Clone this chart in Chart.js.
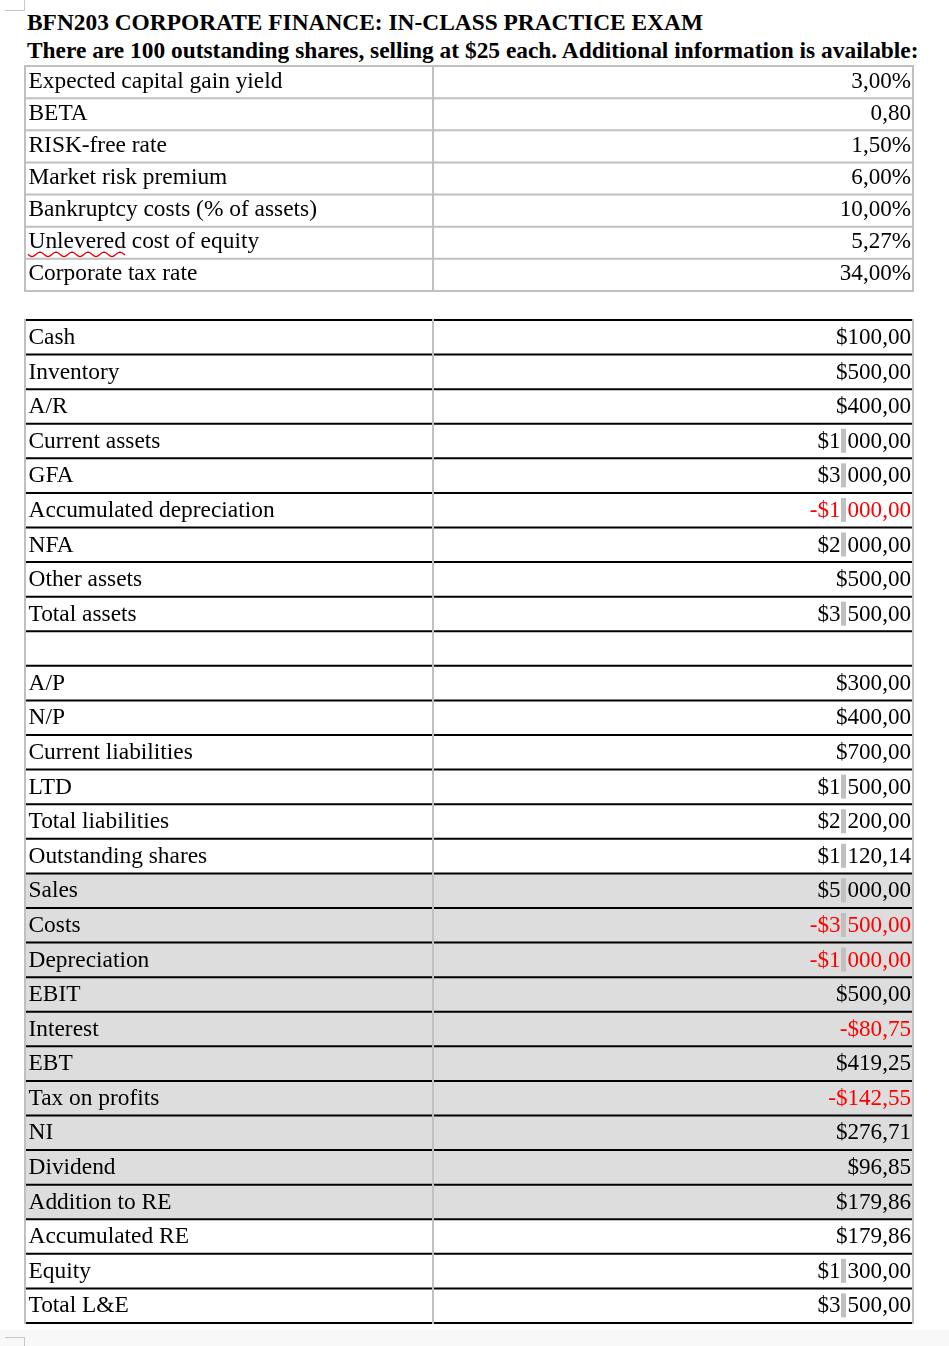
<!DOCTYPE html>
<html>
<head>
<meta charset="utf-8">
<title>BFN203 Corporate Finance</title>
<script src="https://cdn.jsdelivr.net/npm/chart.js@4/dist/chart.umd.min.js"></script>
<style>
  body { margin: 0; background: #ffffff; }
  #page { position: relative; width: 949px; height: 1346px; overflow: hidden; }
  .head { position: absolute; left: 27px; font: bold 23.4px "Liberation Serif", serif; line-height: 24px; white-space: nowrap; color: #000; }
  canvas { position: absolute; left: 0; top: 0; }
  .mark { position: absolute; background: #c6c6c6; }
  #band { position: absolute; left: 0; top: 1330px; width: 949px; height: 16px; background: #f8f8f8; }
</style>
</head>
<body>
<div id="page">
  <div class="head" style="top:10px">BFN203 CORPORATE FINANCE: IN-CLASS PRACTICE EXAM</div>
  <div class="head" style="top:38.3px">There are 100 outstanding shares, selling at $25 each. Additional information is available:</div>
  <canvas id="infoTable" width="949" height="1346"></canvas>
  <canvas id="bsTable" width="949" height="1346"></canvas>
  <div id="band"></div>
  <div class="mark" style="left:24px;top:0;width:1px;height:10px"></div>
  <div class="mark" style="left:5px;top:10px;width:20px;height:1px"></div>
  <div class="mark" style="left:5px;top:1337px;width:20px;height:1px"></div>
  <div class="mark" style="left:24px;top:1337px;width:1px;height:9px"></div>
</div>
<script>
/* DATA */
const infoLabels = [
  "Expected capital gain yield", "BETA", "RISK-free rate", "Market risk premium",
  "Bankruptcy costs (% of assets)", "Unlevered cost of equity", "Corporate tax rate"
];
const infoValues = [3.00, 0.80, 1.50, 6.00, 10.00, 5.27, 34.00];
const infoUnits = ["%", "", "%", "%", "%", "%", "%"];

const bsLabels = [
  "Cash", "Inventory", "A/R", "Current assets", "GFA", "Accumulated depreciation",
  "NFA", "Other assets", "Total assets", "",
  "A/P", "N/P", "Current liabilities", "LTD", "Total liabilities", "Outstanding shares",
  "Sales", "Costs", "Depreciation", "EBIT", "Interest", "EBT", "Tax on profits", "NI",
  "Dividend", "Addition to RE", "Accumulated RE", "Equity", "Total L&E"
];
const bsValues = [
  100, 500, 400, 1000, 3000, -1000, 2000, 500, 3500, null,
  300, 400, 700, 1500, 2200, 1120.14,
  5000, -3500, -1000, 500, -80.75, 419.25, -142.55, 276.71,
  96.85, 179.86, 179.86, 1300, 3500
];
const shadedRows = [
  "Sales", "Costs", "Depreciation", "EBIT", "Interest", "EBT",
  "Tax on profits", "NI", "Dividend", "Addition to RE"
];

const LABEL_FONT = '23.4px "Liberation Serif", serif';
const VALUE_FONT = '23.1px "Liberation Serif", serif';
const SPLIT = 0.4595; // column divider, as share of table width

function fmtPlain(v, unit) {
  return { head: "", tail: v.toFixed(2).replace(".", ",") + unit };
}

function fmtMoney(v) {
  const sign = v < 0 ? "-$" : "$";
  const parts = Math.abs(v).toFixed(2).split(".");
  const int = parts[0];
  if (int.length > 3) {
    return { head: sign + int.slice(0, -3), tail: int.slice(-3) + "," + parts[1] };
  }
  return { head: "", tail: sign + int + "," + parts[1] };
}

/* draws grid lines + cell texts on top of the shading bars */
const cellsPlugin = {
  id: "cells",
  afterDatasetsDraw(chart, args, opts) {
    const { ctx, chartArea: a, scales: { x, y } } = chart;
    const labels = chart.data.labels;
    const n = labels.length;
    const rowH = a.height / n;
    const xl = x.getPixelForValue(0);
    const xm = x.getPixelForValue(SPLIT);
    const xr = x.getPixelForValue(1);

    ctx.save();
    // horizontal rules
    ctx.lineWidth = 2;
    ctx.strokeStyle = opts.rowLine;
    for (let i = 0; i <= n; i++) {
      const yy = i < n ? y.getPixelForValue(i) - rowH / 2 : y.getPixelForValue(n - 1) + rowH / 2;
      ctx.beginPath();
      ctx.moveTo(xl - 1, yy);
      ctx.lineTo(xr + 1, yy);
      ctx.stroke();
    }
    // vertical rules
    ctx.strokeStyle = opts.colLine;
    [xl, xm, xr].forEach(xx => {
      ctx.beginPath();
      ctx.moveTo(xx, a.top - 1);
      ctx.lineTo(xx, a.bottom + 1);
      ctx.stroke();
    });

    // texts
    ctx.textBaseline = "alphabetic";
    labels.forEach((lab, i) => {
      const base = y.getPixelForValue(i) + opts.baseline;
      ctx.font = LABEL_FONT;
      ctx.fillStyle = "#000";
      ctx.textAlign = "left";
      ctx.fillText(lab, xl + 3.5, base);

      if (opts.squiggle && lab.startsWith(opts.squiggle)) {
        const w = ctx.measureText(opts.squiggle).width;
        ctx.beginPath();
        ctx.strokeStyle = "#e8000b";
        ctx.lineWidth = 1.3;
        for (let s = 0; s <= w; s += 1) {
          const yy = base + 6 + 2.2 * Math.sin(s / 16 * 2 * Math.PI);
          if (s === 0) ctx.moveTo(xl + 3 + s, yy); else ctx.lineTo(xl + 3 + s, yy);
        }
        ctx.stroke();
      }

      const v = opts.values[i];
      if (v === null || v === undefined) return;
      const f = opts.units ? fmtPlain(v, opts.units[i]) : fmtMoney(v);
      const right = xr - 2;
      ctx.font = VALUE_FONT;
      ctx.textAlign = "right";
      ctx.fillStyle = v < 0 ? "#ff0000" : "#000";
      ctx.fillText(f.tail, right, base);
      if (f.head) {
        const start = right - ctx.measureText(f.tail).width;
        ctx.fillStyle = "#c0c0c0";
        ctx.fillRect(start - 6.5, base - 19, 5, 24);
        ctx.fillStyle = v < 0 ? "#ff0000" : "#000";
        ctx.fillText(f.head, start - 7, base);
      }
    });
    ctx.restore();
  }
};

function makeTable(id, labels, shading, pad, plugOpts) {
  return new Chart(document.getElementById(id), {
    type: "bar",
    data: {
      labels: labels,
      datasets: [{
        data: labels.map((l, i) => shading[i] ? [0, 1] : null),
        backgroundColor: "#dddddd",
        borderWidth: 0,
        barPercentage: 1,
        categoryPercentage: 1
      }]
    },
    options: {
      indexAxis: "y",
      responsive: false,
      animation: false,
      devicePixelRatio: 1,
      layout: { padding: pad },
      scales: {
        x: { type: "linear", min: 0, max: 1, display: false },
        y: { type: "category", offset: true, display: false }
      },
      plugins: {
        legend: { display: false },
        tooltip: { enabled: false },
        cells: plugOpts
      }
    },
    plugins: [cellsPlugin]
  });
}

/* TABLE 1 - inputs */
makeTable("infoTable", infoLabels, infoLabels.map(() => false),
  { left: 25, right: 949 - 913, top: 66, bottom: 1346 - 291 },
  { values: infoValues, units: infoUnits, rowLine: "#c0c0c0", colLine: "#c0c0c0", baseline: 5.5, squiggle: "Unlevered" });

/* TABLE 2 - balance sheet / income statement */
makeTable("bsTable", bsLabels, bsLabels.map(l => shadedRows.includes(l)),
  { left: 25, right: 949 - 913, top: 320, bottom: 1346 - 1323 },
  { values: bsValues, units: null, rowLine: "#000000", colLine: "#c0c0c0", baseline: 6.7 });
</script>
</body>
</html>
